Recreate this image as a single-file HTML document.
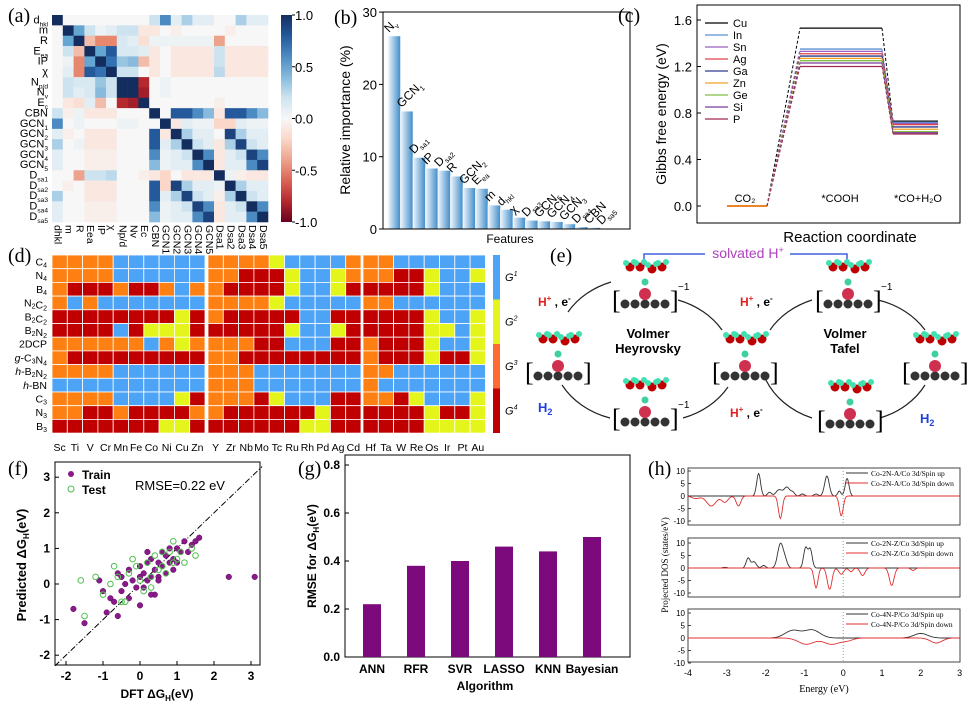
<!DOCTYPE html>
<html><head><meta charset="utf-8"><style>
body{margin:0;background:#fff}
svg{display:block;font-family:"Liberation Sans",sans-serif}
.pl{font-family:"Liberation Serif",serif;font-size:20px}
</style></head><body>
<svg id="s" width="975" height="709" viewBox="0 0 975 709"></svg>
<script>
// ---------- DATA ----------
const corrVars=["d","m","R","E","IP","χ","N","N","E","CBN","GCN","GCN","GCN","GCN","GCN","D","D","D","D","D"];
const corrRowLabels=["d","m","R","E","IP","χ","N","N","E","CBN","GCN","GCN","GCN","GCN","GCN","D","D","D","D","D"];
const corrRowSubs=["hkl","","","ea","","","p/d","v","c","","1","2","3","4","5","sa1","sa2","sa3","sa4","sa5"];
const corr=[
[1,0,0,0,0,0,0,0,0,.2,.6,.1,.3,.1,.1,0,0,.3,.1,.1],
[0,1,.5,.2,.05,.1,.2,.2,-.1,-.1,0,-.05,0,0,0,0,-.05,0,0,0],
[0,.5,1,-.3,-.5,-.5,.15,.1,-.15,.05,.05,.05,.05,.05,.05,-.4,0,0,0,0],
[0,.2,-.3,1,.5,.8,.15,.15,.1,-.1,0,-.1,-.1,-.1,-.1,.2,-.1,-.1,-.1,-.1],
[0,.05,-.5,.5,1,.7,.35,.4,-.3,-.1,0,-.1,-.1,-.1,-.1,.2,-.1,-.1,-.1,-.1],
[0,.1,-.5,.8,.7,1,.2,.2,0,-.1,0,-.1,-.1,-.1,-.1,.25,-.1,-.1,-.1,-.1],
[0,.2,.15,.15,.35,.2,1,1,-.8,0,.05,0,0,0,0,0,0,0,0,0],
[0,.2,.1,.15,.4,.2,1,1,-.85,0,.05,0,0,0,0,0,0,0,0,0],
[0,-.1,-.15,.1,-.3,0,-.8,-.85,1,0,0,0,0,0,0,-.05,0,0,0,0],
[.2,-.05,.05,-.1,-.1,-.1,0,0,0,1,0,.8,.8,.6,.4,-.1,.8,.8,.6,.4],
[.6,0,.05,0,0,0,.05,.05,0,0,1,-.1,.1,.05,.05,-.2,-.2,.1,.05,.05],
[.1,-.05,0,-.1,-.1,-.1,0,0,0,.8,-.1,1,.3,.1,.1,0,.9,.3,.1,.1],
[.3,0,.05,-.1,-.1,-.1,0,0,0,.8,.1,.3,1,.2,.1,-.1,.3,.9,.2,.1],
[.1,0,0,-.05,-.05,-.05,0,0,0,.6,.05,.1,.2,1,.6,-.1,.1,.2,.9,.6],
[.1,0,0,-.05,-.05,-.05,0,0,0,.4,.05,.1,.1,.6,1,-.1,.1,.1,.6,.9],
[0,0,-.4,.2,.2,.25,0,0,-.05,-.1,-.2,0,-.1,-.1,-.1,1,.05,-.05,-.1,-.1],
[0,-.05,0,-.1,-.1,-.1,0,0,0,.8,-.2,.9,.3,.1,.1,.05,1,.3,.1,.1],
[.3,0,0,-.1,-.1,-.1,0,0,0,.8,.1,.3,.9,.2,.1,-.05,.3,1,.2,.1],
[.1,0,0,-.05,-.05,-.05,0,0,0,.6,.05,.1,.2,.9,.6,-.1,.1,.2,1,.6],
[.1,0,0,-.05,-.05,-.05,0,0,0,.4,.05,.1,.1,.6,.9,-.1,.1,.1,.6,1]];
const cbTicks=[1.0,0.5,0.0,-0.5,-1.0];

const featNames=["N","GCN","D","IP","D","R","GCN","E","m","d","χ","D","GCN","GCN","GCN","D","CBN","D"];
const featSubs=["v","1","sa1","","sa2","","2","ea","","hkl","","sa3","5","4","3","sa4","","sa5"];
const featVals=[26.7,16.3,9.9,8.4,8.1,7.3,5.7,5.6,3.3,2.7,1.6,1.2,1.1,1.0,0.7,0.3,0.2,0.1];
const impTicks=[0,10,20,30];

const gElems=["Cu","In","Sn","Ag","Ga","Zn","Ge","Si","P"];
const gColors=["#000000","#5b8fd0","#9b5fc0","#e0404a","#2a3c90","#f0a020","#80c040","#7a3aa0","#a02850"];
const gCOOH=[1.53,1.35,1.33,1.31,1.29,1.27,1.25,1.23,1.20];
const gCO=[0.73,0.72,0.71,0.70,0.68,0.66,0.64,0.63,0.62];
const gTicks=[0.0,0.4,0.8,1.2,1.6];

const dRows=["C4","N4","B4","N2C2","B2C2","B2N2","2DCP","g-C3N4","h-B2N2","h-BN","C3","N3","B3"];
const dCols=["Sc","Ti","V","Cr","Mn","Fe","Co","Ni","Cu","Zn","Y","Zr","Nb","Mo","Tc","Ru","Rh","Pd","Ag","Cd","Hf","Ta","W","Re","Os","Ir","Pt","Au"];
const dCells=[
"OOOOBBBBBB"+"OOOOYBBBBO"+"OOBBBBBB",
"OOOOBBBBBB"+"OORRRYBBYO"+"OORRYBBY",
"ORRRORROBO"+"ORRRRYBBYR"+"RRRRYBBB",
"OBOBBBBBBB"+"OOOOYBBBBB"+"OOBBBBBB",
"RRRRRRRRYR"+"ORRRRRBBRR"+"RRRRYBBY",
"RRRRBRYYYR"+"RRRRRYBBYR"+"RRRRYYBY",
"OOOOOOBOYO"+"OOORRBBBRR"+"ORRRYBBY",
"ORRRRRRRRR"+"OORRRRRRRR"+"ORRRYRRY",
"OOOOBBBBBB"+"OOOBBBBBBB"+"OOBBBBBB",
"BBBBBBBBBB"+"OOOBBBBBBB"+"OBBBBBBB",
"OOOOBBBBYR"+"OOORYBBBRR"+"OORYBBBY",
"OORRORRRRO"+"ORRRRRRYRR"+"RRRRYRRY",
"RRRRRRRYYR"+"RRRRRRYYRR"+"RRRRYYYY"];

const trainX=[-1.8,-1.5,-1.1,-0.9,-0.8,-0.7,-0.6,-0.5,-0.5,-0.4,-0.3,-0.3,-0.2,-0.1,0,0,0.1,0.1,0.2,0.2,0.3,0.3,0.4,0.4,0.5,0.5,0.6,0.6,0.7,0.7,0.8,0.8,0.9,0.9,1.0,1.0,1.1,1.2,1.3,1.4,1.5,1.6,2.4,3.1,-0.6,0.0,0.3,0.5,-1.0,0.2];
const trainY=[-0.7,-1.1,0.1,-0.8,-0.4,-0.5,0.3,-0.2,0.2,0,-0.4,0.4,0.1,-0.1,0.2,0.5,0.3,-0.1,0.6,0.1,0.2,0.7,0.4,-0.3,0.6,0.2,0.5,0.9,0.3,0.8,1.0,0.6,0.7,0.4,1.0,0.6,0.9,1.2,0.9,1.1,1.2,1.3,0.2,0.2,-0.9,-0.6,-0.3,0.1,-0.2,0.9];
const testX=[-1.6,-1.5,-1.2,-1.0,-0.8,-0.6,-0.5,-0.3,-0.2,-0.1,0,0.1,0.2,0.3,0.4,0.5,0.6,0.7,0.8,0.9,1.0,1.1,1.2,1.4,1.5,-0.4,0.3,0.6,0.9,-0.7];
const testY=[0.1,-0.9,0.2,-0.3,0,0.2,-0.5,0.3,0.7,0.5,0.1,-0.2,0.6,0.2,0.8,0.4,0.5,0.3,0.9,0.6,0.7,0.9,0.6,1.0,0.8,-0.5,-0.1,0.9,1.2,0.5];
const fXTicks=[-2,-1,0,1,2,3];
const fYTicks=[-2,-1,0,1,2,3];

const algs=["ANN","RFR","SVR","LASSO","KNN","Bayesian"];
const rmse=[0.22,0.38,0.40,0.46,0.44,0.50];
const gYTicks=[0.0,0.2,0.4,0.6,0.8];

const dosLegends=[["Co-2N-A/Co 3d/Spin up","Co-2N-A/Co 3d/Spin down"],["Co-2N-Z/Co 3d/Spin up","Co-2N-Z/Co 3d/Spin down"],["Co-4N-P/Co 3d/Spin up","Co-4N-P/Co 3d/Spin down"]];
const dosUp=[
[[-2.18,9,0.05],[-1.9,1.5,0.05],[-1.65,2.5,0.08],[-1.45,3.5,0.07],[-1.3,1.5,0.05],[-1.05,0.8,0.05],[-0.7,0.8,0.05],[-0.42,8,0.06],[-0.1,2,0.04],[0.1,7,0.05]],
[[-2.45,4,0.05],[-2.3,2.5,0.06],[-2.05,1,0.05],[-1.62,9.5,0.07],[-1.5,3,0.06],[-0.97,8,0.05],[-0.85,7.5,0.05],[-3.05,0.3,0.05]],
[[-1.3,3,0.2],[-0.8,3.2,0.2],[2.0,1.8,0.18]]];
const dosDn=[
[[-3.4,-4,0.12],[-3.05,-2.5,0.08],[-2.7,-4,0.06],[-3.8,-1,0.1],[-1.62,-9,0.05],[-0.05,-8,0.05]],
[[-0.7,-8,0.05],[-0.35,-8.5,0.06],[-0.05,-2.5,0.06],[0.2,-1.5,0.05],[0.5,-3,0.06],[1.25,-7,0.06],[1.8,-1,0.05]],
[[-0.95,-2.5,0.2],[-0.3,-2.5,0.2],[0.1,-1,0.15],[2.4,-2,0.15]]];

// ---------- helpers ----------
const S=document.getElementById('s');const NS="http://www.w3.org/2000/svg";
function el(tag,attrs,parent,text){const e=document.createElementNS(NS,tag);for(const k in attrs)e.setAttribute(k,attrs[k]);if(text!==undefined)e.textContent=text;(parent||S).appendChild(e);return e;}
function grp(name){const g=el('g',{});return g;}
function lerp(a,b,t){return a.map((v,i)=>Math.round(v+(b[i]-v)*t));}
function rdbu(v){const stops=[[-1,[103,0,31]],[-0.75,[200,50,50]],[-0.5,[230,135,110]],[-0.2,[250,215,200]],[0,[247,247,247]],[0.2,[205,228,240]],[0.5,[100,165,210]],[0.75,[40,100,170]],[1,[20,45,95]]];
for(let i=0;i<stops.length-1;i++){if(v<=stops[i+1][0]){const t=(v-stops[i][0])/(stops[i+1][0]-stops[i][0]);const c=lerp(stops[i][1],stops[i+1][1],t);return `rgb(${c})`;}}return 'rgb(20,45,95)';}
function label(txt,x,y,name){const t=el('text',{x,y,class:'pl'},S,txt);}
function subText(parent,x,y,main,sub,attrs){const t=el('text',Object.assign({x,y},attrs||{}),parent);el('tspan',{},t,main);if(sub)el('tspan',{'font-size':'0.6em',dy:'3'},t,sub);return t;}

// ---------- (a) ----------
(function(){const g=grp('panel-a-correlation-heatmap');const x0=52,y0=15,w=216/20,h=207/20;
corr.forEach((row,i)=>row.forEach((v,j)=>{const r=el('rect',{x:x0+j*w,y:y0+i*h,width:w+0.3,height:h+0.3,fill:rdbu(v)},g);}));
corrRowLabels.forEach((l,i)=>{const t=subText(g,x0-4,y0+i*h+h*0.8,l,corrRowSubs[i],{'text-anchor':'end','font-size':11});});
corrVars.forEach((l,j)=>{const x=x0+j*w+w*0.25,y=y0+210;const t=el('text',{x,y,'font-size':10.5,transform:`rotate(90 ${x} ${y})`},g,l+(corrRowSubs[j]?corrRowSubs[j]:''));});
const defs=el('defs',{},g);const lg=el('linearGradient',{id:'cbg',x1:0,y1:0,x2:0,y2:1},defs);
for(let k=0;k<=10;k++)el('stop',{offset:k/10,'stop-color':rdbu(1-k/5)},lg);
const cb=el('rect',{x:281,y:15,width:11,height:207,fill:'url(#cbg)'},g);
cbTicks.forEach(v=>{const y=15+(1-v)/2*207;el('line',{x1:292,x2:295,y1:y,y2:y,stroke:'#000'},g);const t=el('text',{x:295,y:y+5,'font-size':13},g,v.toFixed(1));});
label('(a)',8,22,'panel-label-a');})();

// ---------- (b) ----------
(function(){const g=grp('panel-b-feature-importance');const X0=383,X1=630,Y0=229;const sy=v=>Y0-v*7.23;
const defs=el('defs',{},g);const lg=el('linearGradient',{id:'bg',x1:0,y1:0,x2:1,y2:0},defs);el('stop',{offset:0,'stop-color':'#eef5fc'},lg);el('stop',{offset:1,'stop-color':'#3f8cc8'},lg);
const bw=12.5;
featVals.forEach((v,i)=>{const x=X0+5+i*bw;const r=el('rect',{x,y:sy(v),width:bw,height:Y0-sy(v),fill:'url(#bg)',stroke:'#fff','stroke-width':0.5},g);
const lx=x+1,ly=sy(v)-3;const t=subText(g,lx,ly,featNames[i],featSubs[i],{'font-size':12,transform:`rotate(-45 ${lx} ${ly})`});});
el('rect',{x:X0,y:12,width:X1-X0,height:Y0-12,fill:'none',stroke:'#000'},g);
impTicks.forEach(v=>{el('line',{x1:X0-4,x2:X0,y1:sy(v),y2:sy(v),stroke:'#000'},g);const t=el('text',{x:X0-6,y:sy(v)+5,'font-size':13,'text-anchor':'end'},g,v);});
const yt=el('text',{x:350,y:120,'font-size':14,'text-anchor':'middle',transform:'rotate(-90 350 120)'},g,'Relative importance (%)');
const xt=el('text',{x:510,y:243,'font-size':12,'text-anchor':'middle'},g,'Features');
label('(b)',334,24,'panel-label-b');})();

// ---------- (c) ----------
(function(){const g=grp('panel-c-gibbs-energy');const X0=697,X1=960,sy=v=>206-v*116.25;
el('rect',{x:X0,y:5,width:X1-X0,height:218,fill:'none',stroke:'#000'},g);
gTicks.forEach(v=>{el('line',{x1:X0,x2:X0+4,y1:sy(v),y2:sy(v),stroke:'#000'},g);const t=el('text',{x:X0-5,y:sy(v)+5,'font-size':13,'text-anchor':'end'},g,v.toFixed(1));});
gElems.forEach((e,i)=>{const c=gColors[i];
const a=el('line',{x1:727,x2:767,y1:sy(0),y2:sy(0),stroke:'#f08020','stroke-width':1.3},g);
const d1=el('line',{x1:767,y1:sy(0),x2:800,y2:sy(gCOOH[i]),stroke:c,'stroke-dasharray':'3,2'},g);
const l1=el('line',{x1:800,x2:882,y1:sy(gCOOH[i]),y2:sy(gCOOH[i]),stroke:c,'stroke-width':1.3},g);
const d2=el('line',{x1:882,y1:sy(gCOOH[i]),x2:893,y2:sy(gCO[i]),stroke:c,'stroke-dasharray':'3,2'},g);
const l2=el('line',{x1:893,x2:938,y1:sy(gCO[i]),y2:sy(gCO[i]),stroke:c,'stroke-width':1.3},g);
const ly=23+i*12;el('line',{x1:705,x2:728,y1:ly,y2:ly,stroke:c,'stroke-width':1.3},g);const t=el('text',{x:733,y:ly+4,'font-size':11},g,e);});
[['CO₂',745],['*COOH',840],['*CO+H₂O',918]].forEach(([s,x])=>{const t=el('text',{x,y:202,'font-size':11,'text-anchor':'middle'},g,s);});
const xt=el('text',{x:850,y:242,'font-size':15,'text-anchor':'middle'},g,'Reaction coordinate');
const yt=el('text',{x:666,y:114,'font-size':14,'text-anchor':'middle',transform:'rotate(-90 666 114)'},g,'Gibbs free energy (eV)');
label('(c)',618,22,'panel-label-c');})();

// ---------- (d) ----------
(function(){const g=grp('panel-d-classification-map');const col={O:'#ff8012',B:'#4da3f5',Y:'#e4f51c',R:'#c00000'};const cw=15.3,rh=13.7,y0=255;
const gx=[52,208,363];
const cx=j=>j<10?gx[0]+j*cw:(j<20?gx[1]+(j-10)*cw:gx[2]+(j-20)*cw);
dCells.forEach((row,i)=>{for(let j=0;j<row.length;j++){const r=el('rect',{x:cx(j),y:y0+i*rh,width:cw,height:rh,fill:col[row[j]],stroke:'#fff','stroke-width':0.8},g);}});
dRows.forEach((l,i)=>{const t=el('text',{x:47,y:y0+i*rh+10.5,'font-size':10.5,'text-anchor':'end'},g);const m=l.match(/^([gh]-)?(.*)$/);if(m[1]){el('tspan',{'font-style':'italic'},t,m[1][0]);el('tspan',{},t,'-');}
m[2].split(/(\d)/).forEach(p=>{if(!p)return;if(/\d/.test(p)&&l!=='2DCP')el('tspan',{'font-size':'7',dy:'2'},t,p),el('tspan',{dy:'-2'},t,'');else el('tspan',{},t,p);});});
dCols.forEach((l,j)=>{const t=el('text',{x:cx(j)+cw/2,y:451,'font-size':10.5,'text-anchor':'middle'},g,l);});
['#4da3f5','#e4f51c','#ff6a30','#c00000'].forEach((c,k)=>{const y=255+k*44.5;const r=el('rect',{x:493,y,width:7,height:44.5,fill:c},g);const t=el('text',{x:505,y:y+26,'font-size':11,'font-style':'italic'},g);el('tspan',{},t,'G');el('tspan',{'font-size':7,dy:-5},t,String(k+1));});
label('(d)',8,262,'panel-label-d');})();

// ---------- (e) ----------
(function(){const g=grp('panel-e-her-mechanism');
el('path',{d:'M568,312 A82,70 0 0 1 611,282',fill:'none',stroke:'#222','stroke-width':1.2},g);
el('path',{d:'M678,300 A82,70 0 0 1 722,330',fill:'none',stroke:'#222','stroke-width':1.2},g);
el('path',{d:'M728,387 A82,70 0 0 1 683,418',fill:'none',stroke:'#222','stroke-width':1.2},g);
el('path',{d:'M610,418 A82,70 0 0 1 562,385',fill:'none',stroke:'#222','stroke-width':1.2},g);
el('path',{d:'M770,330 A82,70 0 0 1 812,300',fill:'none',stroke:'#222','stroke-width':1.2},g);
el('path',{d:'M878,300 A82,70 0 0 1 925,330',fill:'none',stroke:'#222','stroke-width':1.2},g);
el('path',{d:'M925,385 A82,70 0 0 1 880,418',fill:'none',stroke:'#222','stroke-width':1.2},g);
el('path',{d:'M812,418 A82,70 0 0 1 765,378',fill:'none',stroke:'#222','stroke-width':1.2},g);
el('polyline',{points:'644,266 644,254 705,254',fill:'none',stroke:'#4060e0','stroke-width':1.5},g);
el('polyline',{points:'790,254 847,254 847,266',fill:'none',stroke:'#4060e0','stroke-width':1.5},g);
const mols=[[645,300,1],[558,372,0],[745,372,0],[645,418,1],[848,300,1],[935,372,0],[850,420,0]];
mols.forEach(([x,y,neg])=>{const m=grp('molecule');g.appendChild(m);
el('text',{x:x-33,y:y+9,'font-size':26,'font-family':'Liberation Serif'},m,'[');el('text',{x:x+25,y:y+9,'font-size':26,'font-family':'Liberation Serif'},m,']');
if(neg)el('text',{x:x+33,y:y-10,'font-size':10},m,'−1');
for(let k=-2;k<=2;k++)el('circle',{cx:x+k*10,cy:y+4,r:4.5,fill:'#333'},m);
el('circle',{cx:x,cy:y-6,r:6,fill:'#d03050'},m);
el('circle',{cx:x,cy:y-18,r:3.5,fill:'#40d0a0'},m);
const wy=y-33;[[-15,0,'#c00000'],[-5,0,'#c00000'],[7,2,'#c00000'],[17,0,'#c00000']].forEach(([dx,dy,c])=>{el('circle',{cx:x+dx,cy:wy+dy,r:4.5,fill:c},m);el('circle',{cx:x+dx+4,cy:wy+dy-5,r:3,fill:'#40e0b0'},m);el('circle',{cx:x+dx-4,cy:wy+dy-4,r:3,fill:'#40e0b0'},m);});});
const sv=el('text',{x:748,y:258,'font-size':14,'text-anchor':'middle',fill:'#b040c0'},g);el('tspan',{},sv,'solvated H');el('tspan',{'font-size':9,dy:-5},sv,'+');
[['Volmer',648,338],['Heyrovsky',648,353],['Volmer',845,338],['Tafel',845,353]].forEach(([s,x,y])=>{const t=el('text',{x,y,'font-size':13,'font-weight':'bold','text-anchor':'middle'},g,s);});
[[538,306],[740,306],[730,417]].forEach(([x,y])=>{const t=el('text',{x,y,'font-size':12,'font-weight':'bold'},g);el('tspan',{fill:'#e02020'},t,'H');el('tspan',{fill:'#e02020','font-size':8,dy:-5},t,'+');el('tspan',{dy:5},t,' , e');el('tspan',{'font-size':8,dy:-5},t,'-');});
[[538,412],[920,423]].forEach(([x,y])=>{const t=el('text',{x,y,'font-size':13,'font-weight':'bold',fill:'#2040e0'},g);el('tspan',{},t,'H');el('tspan',{'font-size':9,dy:3},t,'2');});
label('(e)',550,262,'panel-label-e');})();

// ---------- (f) ----------
(function(){const g=grp('panel-f-parity-plot');const sx=v=>140+v*37,sy=v=>584-v*35.6;
el('rect',{x:55,y:462,width:205,height:203,fill:'none',stroke:'#000'},g);
const dl=el('line',{x1:sx(-2.3),y1:sy(-2.3),x2:sx(3.3),y2:sy(3.3)},g);dl.setAttribute('stroke','#000');dl.setAttribute('stroke-dasharray','6,2,1,2');
fXTicks.forEach(v=>{el('line',{x1:sx(v),x2:sx(v),y1:665,y2:661,stroke:'#000'},g);const t=el('text',{x:sx(v),y:680,'font-size':12,'font-weight':'bold','text-anchor':'middle'},g,v);});
fYTicks.forEach(v=>{el('line',{x1:55,x2:59,y1:sy(v),y2:sy(v),stroke:'#000'},g);const t=el('text',{x:50,y:sy(v)+4,'font-size':12,'font-weight':'bold','text-anchor':'end'},g,v);});
trainX.forEach((x,i)=>{const c=el('circle',{cx:sx(x),cy:sy(trainY[i]),r:2.8,fill:'#8a1a8a',stroke:'#5a005a','stroke-width':0.5},g);});
testX.forEach((x,i)=>{const c=el('circle',{cx:sx(x),cy:sy(testY[i]),r:2.8,fill:'none',stroke:'#50c050','stroke-width':1},g);});
el('circle',{cx:71,cy:474,r:3,fill:'#8a1a8a'},g);el('circle',{cx:71,cy:489,r:3,fill:'none',stroke:'#50c050'},g);
const t1=el('text',{x:82,y:479,'font-size':12,'font-weight':'bold'},g,'Train');
const t2=el('text',{x:82,y:494,'font-size':12,'font-weight':'bold'},g,'Test');
const r=el('text',{x:135,y:490,'font-size':13},g,'RMSE=0.22 eV');
const xt=el('text',{x:157,y:698,'font-size':12,'font-weight':'bold','text-anchor':'middle'},g,'DFT ΔG');el('tspan',{'font-size':8,dy:3},xt,'H');el('tspan',{dy:-3},xt,'(eV)');
const yt=el('text',{x:26,y:565,'font-size':13,'font-weight':'bold','text-anchor':'middle',transform:'rotate(-90 26 565)'},g,'Predicted  ΔG');el('tspan',{'font-size':8,dy:3},yt,'H');el('tspan',{dy:-3},yt,'(eV)');
label('(f)',8,475,'panel-label-f');})();

// ---------- (g) ----------
(function(){const g=grp('panel-g-rmse-bars');const sy=v=>657-v*240;const X0=345,X1=630;const bx=i=>372+i*44;
el('rect',{x:X0,y:455,width:X1-X0,height:202,fill:'none',stroke:'#000'},g);
gYTicks.forEach(v=>{el('line',{x1:X0,x2:X0+4,y1:sy(v),y2:sy(v),stroke:'#000'},g);const t=el('text',{x:X0-5,y:sy(v)+4,'font-size':12,'font-weight':'bold','text-anchor':'end'},g,v.toFixed(1));});
algs.forEach((a,i)=>{const r=el('rect',{x:bx(i)-9,y:sy(rmse[i]),width:18,height:657-sy(rmse[i]),fill:'#7d0a7d'},g);
const t=el('text',{x:bx(i),y:673,'font-size':12,'font-weight':'bold','text-anchor':'middle'},g,a);});
const xt=el('text',{x:485,y:690,'font-size':12,'font-weight':'bold','text-anchor':'middle'},g,'Algorithm');
const yt=el('text',{x:316,y:556,'font-size':12,'font-weight':'bold','text-anchor':'middle',transform:'rotate(-90 316 556)'},g,'RMSE for ΔG');el('tspan',{'font-size':8,dy:3},yt,'H');el('tspan',{dy:-3},yt,'(eV)');
label('(g)',298,475,'panel-label-g');})();

// ---------- (h) ----------
(function(){const g=grp('panel-h-pdos');const sx=e=>688+(e+4)*38.8;const frames=[[468,525,496],[538,597,568],[609,662,638]];
frames.forEach(([t,b,base],k)=>{const sc=2.5;const sy=v=>base-v*sc;
el('rect',{x:688,y:t,width:272,height:b-t,fill:'none',stroke:'#444'},g);
el('line',{x1:sx(0),x2:sx(0),y1:t,y2:b,stroke:'#999','stroke-dasharray':'1,2'},g);
[10,5,0,-5,-10].forEach(v=>{const y=sy(v);if(y<t-1||y>b+1)return;el('line',{x1:688,x2:691,y1:y,y2:y,stroke:'#444'},g);const tt=el('text',{x:685,y:y+3,'font-size':8,'text-anchor':'end'},g,v);});
[[dosUp[k],'#333'],[dosDn[k],'#e03030']].forEach(([pk,c])=>{let d='';for(let e=-4;e<=3.001;e+=0.02){let v=0;pk.forEach(([c0,h,w])=>{v+=h*Math.exp(-((e-c0)**2)/(2*w*w));});v=Math.max(-11,Math.min(11,v));d+=(d?'L':'M')+sx(e).toFixed(1)+','+sy(v).toFixed(1);}
const p=el('path',{d,fill:'none',stroke:c,'stroke-width':0.9},g);});
dosLegends[k].forEach((s,i)=>{const y=t+8+i*10;el('line',{x1:846,x2:868,y1:y-3,y2:y-3,stroke:i?'#e03030':'#333'},g);const tt=el('text',{x:871,y,'font-size':7.5,'font-family':'Liberation Serif'},g,s);});});
[-4,-3,-2,-1,0,1,2,3].forEach(v=>{const t=el('text',{x:sx(v),y:676,'font-size':9,'text-anchor':'middle'},g,v);});
const xt=el('text',{x:824,y:692,'font-size':10,'text-anchor':'middle','font-family':'Liberation Serif'},g,'Energy (eV)');
const yt=el('text',{x:668,y:565,'font-size':9,'text-anchor':'middle','font-family':'Liberation Serif',transform:'rotate(-90 668 565)'},g,'Projected DOS (states/eV)');
label('(h)',648,475,'panel-label-h');})();
</script>
</body></html>
